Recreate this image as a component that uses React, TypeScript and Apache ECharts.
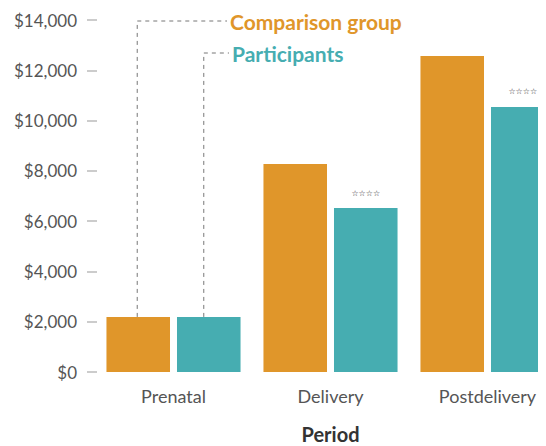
import React, { useEffect, useRef } from "react";
import * as echarts from "echarts";

const categories = ["Prenatal", "Delivery", "Postdelivery"];
const comparisonValues = [2190, 8270, 12570];
const participantValues = [2190, 6520, 10540];
const participantMarks = ["", "****", "****"];
const seriesNames = ["Comparison group", "Participants"];
const yTicks = { min: 0, max: 14000, interval: 2000 };

const ORANGE = "#E0962A";
const TEAL = "#46ADB1";
const FONT = "Lato";

export default function App() {
  const ref = useRef<HTMLDivElement>(null);
  useEffect(() => {
    if (!ref.current) return;
    const chart = echarts.init(ref.current, null, { renderer: "svg" });
    const gridLeft = 87;
    const gridWidth = 471;
    const gridTop = 12;
    const gridHeight = 352;
    const catGap = 0.146;
    const barGap = 0.11;
    chart.setOption({
      animation: false,
      grid: {
        left: gridLeft,
        top: gridTop,
        width: gridWidth,
        height: gridHeight,
        containLabel: false,
        outerBoundsMode: "none",
      },
      xAxis: {
        type: "category",
        data: categories,
        name: "Period",
        nameLocation: "middle",
        nameGap: 52,
        nameTextStyle: { fontFamily: FONT, fontSize: 20, fontWeight: "bold", color: "#333" },
        axisLine: { show: false },
        axisTick: { show: false },
        axisLabel: { fontFamily: FONT, fontSize: 18, color: "#555", margin: 15 },
      },
      yAxis: {
        type: "value",
        min: yTicks.min,
        max: yTicks.max,
        interval: yTicks.interval,
        offset: -2,
        splitLine: { show: false },
        axisLine: { show: false },
        axisTick: { show: true, length: 10, lineStyle: { color: "#bbb", width: 1.5 } },
        axisLabel: {
          fontFamily: FONT,
          fontSize: 17,
          color: "#555",
          margin: 20,
          formatter: (v: number) => "$" + v.toLocaleString("en-US"),
        },
      },
      series: [
        {
          name: seriesNames[0],
          type: "bar",
          data: comparisonValues,
          itemStyle: { color: ORANGE },
          barGap: barGap * 100 + "%",
          barCategoryGap: catGap * 100 + "%",
        },
        {
          name: seriesNames[1],
          type: "bar",
          data: participantValues.map((v, i) => ({
            value: v,
            label: {
              show: participantMarks[i] !== "",
              position: "top",
              distance: 11,
              formatter: participantMarks[i].replace(/\*/g, "☆"),
              fontFamily: "DejaVu Sans",
              fontSize: 8,
              color: "#222",
            },
          })),
          itemStyle: { color: TEAL },
          barGap: barGap * 100 + "%",
          barCategoryGap: catGap * 100 + "%",
        },
      ],
    });

    // leader lines for the in-chart legend, derived from the scales
    const band = gridWidth / categories.length;
    const barW = (band * (1 - catGap)) / (2 + barGap);
    const off = (barW * (1 + barGap)) / 2;
    const centerX = chart.convertToPixel({ xAxisIndex: 0 }, categories[0]) as unknown as number;
    const xO = centerX - off - 1;
    const xT = centerX + off - 5;
    const yO = chart.convertToPixel({ yAxisIndex: 0 }, comparisonValues[0]) as unknown as number;
    const yT = chart.convertToPixel({ yAxisIndex: 0 }, participantValues[0]) as unknown as number;
    const yTop = chart.convertToPixel({ yAxisIndex: 0 }, yTicks.max) as unknown as number;
    const cornerO = yTop + 1;
    const cornerT = yTop + 33;
    const textX = 222;
    const dash = { stroke: "#777", lineWidth: 1, lineDash: [4, 4], fill: "none" };
    chart.setOption({
      graphic: [
        { type: "polyline", shape: { points: [[xO, yO], [xO, cornerO], [textX - 3, cornerO]] }, style: dash },
        { type: "polyline", shape: { points: [[xT, yT], [xT, cornerT], [textX - 1, cornerT]] }, style: dash },
        {
          type: "text",
          x: textX,
          y: cornerO,
          style: { text: seriesNames[0], fill: ORANGE, font: `bold 21px ${FONT}`, verticalAlign: "middle", textAlign: "left" },
        },
        {
          type: "text",
          x: textX + 2,
          y: cornerT,
          style: { text: seriesNames[1], fill: TEAL, font: `bold 21px ${FONT}`, verticalAlign: "middle", textAlign: "left" },
        },
      ],
    });
    return () => chart.dispose();
  }, []);
  return <div ref={ref} style={{ width: 538, height: 438 }} />;
}
